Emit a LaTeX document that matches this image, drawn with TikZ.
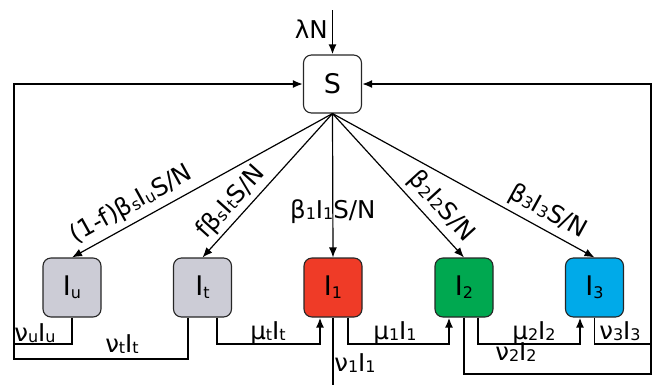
\documentclass[tikz,border=0pt]{standalone}
\usepackage{fontspec}
\setmainfont{DejaVu Sans}
\usetikzlibrary{arrows.meta}

\definecolor{grayI}{RGB}{204,204,214}
\definecolor{redI}{RGB}{239,59,39}
\definecolor{greenI}{RGB}{0,168,80}
\definecolor{blueI}{RGB}{0,170,233}

% subscripts for rate labels and for compartment names
\newcommand\rs[1]{\raisebox{-1pt}{\fontsize{16}{16}\selectfont #1}}
\newcommand\bs[1]{\raisebox{-3pt}{\fontsize{16}{16}\selectfont #1}}

\begin{document}
\begin{tikzpicture}[x=1pt,y=-1pt,
  box/.style={draw=black!85, line width=1.1pt, rounded corners=8pt,
    minimum width=58pt, minimum height=59pt, inner sep=0pt,
    font=\fontsize{27}{30}\selectfont},
  rate/.style={font=\fontsize{24.5}{28}\selectfont, inner sep=0pt},
  tip/.style={-{Latex[length=10pt,width=8pt]}},
  inflow/.style={line width=1.2pt, tip},
  flow/.style={line width=1.8pt},
]
\useasboundingbox (0,0) rectangle (654,384);

% compartments
\node[box, fill=white, minimum height=58pt] (S) at (332.5,84) {S};
\node[box, fill=grayI]  (Iu) at (72,287.5)    {I\bs{u}};
\node[box, fill=grayI]  (It) at (202.5,287.5) {I\bs{t}};
\node[box, fill=redI]   (I1) at (333,287.5)   {I\bs{1}};
\node[box, fill=greenI] (I2) at (464,287.5)   {I\bs{2}};
\node[box, fill=blueI]  (I3) at (594.5,287.5) {I\bs{3}};

% routing points
\coordinate (birth) at (332.5,10);
\coordinate (lowL) at (14,359);
\coordinate (midL) at (14,344);
\coordinate (lowR) at (651,374);
\coordinate (midR) at (651,344);
\coordinate (bus) at (0,344);
\coordinate (floor) at (0,386);
\coordinate (It-nu) at ([xshift=-14.5pt]It.south);
\coordinate (It-mu) at ([xshift=14.5pt]It.south);
\coordinate (I1-in) at ([xshift=-13pt]I1.south);
\coordinate (I1-mu) at ([xshift=15pt]I1.south);
\coordinate (I2-in) at ([xshift=-15pt]I2.south);
\coordinate (I2-mu) at ([xshift=14pt]I2.south);
\coordinate (I3-in) at ([xshift=-14.5pt]I3.south);

% recruitment
\draw[flow, tip] (birth) -- node[rate, pos=0.64, anchor=base east, xshift=-4pt] {λN} (S.north);

% infection
\draw[inflow] (S.south) -- node[rate, sloped, above=5pt, pos=0.74] {(1-f)β\rs{s}I\rs{u}S/N} (Iu.north);
\draw[inflow] (S.south) -- node[rate, sloped, above=3pt, pos=0.69] {fβ\rs{s}I\rs{t}S/N} (It.north);
\draw[inflow] (S.south) -- node[rate, pos=0.68] {β\rs{1}I\rs{1}S/N} (I1.north);
\draw[inflow] (S.south) -- node[rate, sloped, above=5pt, pos=0.73] {β\rs{2}I\rs{2}S/N} (I2.north);
\draw[inflow] (S.south) -- node[rate, sloped, above=5pt, pos=0.79] {β\rs{3}I\rs{3}S/N} (I3.north);

% recovery back to S
\draw[flow, tip] (It-nu) |- (lowL) |- (S.west);
\draw[flow] (Iu.south) |- (midL);
\draw[flow, tip] (I2.south) |- (lowR) |- (S.east);
\draw[flow] (I3.south) |- (midR);
\draw[flow] (I1.south) -- (I1.south |- floor);

% progression between stages
\draw[flow, tip] (It-mu) |- (I1-in |- bus) -- (I1-in);
\draw[flow, tip] (I1-mu) |- (I2-in |- bus) -- (I2-in);
\draw[flow, tip] (I2-mu) |- (I3-in |- bus) -- (I3-in);

% rate labels
\node[rate, anchor=base] (lu)  at (35,341)  {ν\rs{u}I\rs{u}};
\node[rate, anchor=base] (lt)  at (122,352) {ν\rs{t}I\rs{t}};
\node[rate, anchor=base] (lmt) at (268,339) {μ\rs{t}I\rs{t}};
\node[rate, anchor=base] (l1)  at (355,371) {ν\rs{1}I\rs{1}};
\node[rate, anchor=base] (lm1) at (395,339) {μ\rs{1}I\rs{1}};
\node[rate, anchor=base] (lm2) at (534,339) {μ\rs{2}I\rs{2}};
\node[rate, anchor=base] (l2)  at (516,360) {ν\rs{2}I\rs{2}};
\node[rate, anchor=base] (l3)  at (620,339) {ν\rs{3}I\rs{3}};
\end{tikzpicture}
\end{document}
